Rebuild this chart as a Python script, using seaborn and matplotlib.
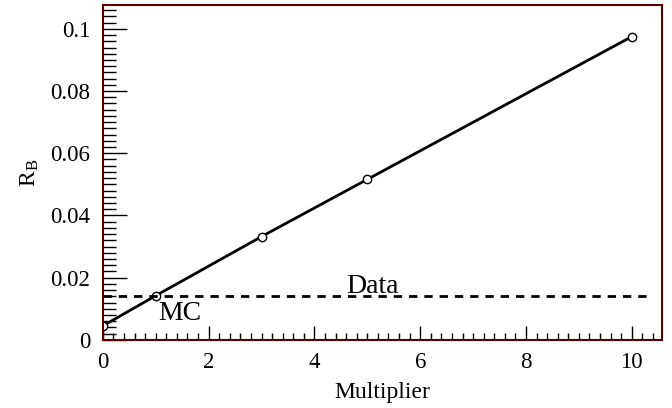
import numpy as np
import pandas as pd
import matplotlib
matplotlib.use('Agg')
import matplotlib.pyplot as plt
import seaborn as sns
from matplotlib.ticker import MultipleLocator, FuncFormatter

# values
multiplier = [0, 1, 3, 5, 10]
r_b = [0.0045, 0.0142, 0.0332, 0.0516, 0.0975]
data_level = 0.0142
data_x = [0, 10.4]

df = pd.DataFrame({'Multiplier': multiplier, 'R_B': r_b})

sns.set_theme(style='ticks')
plt.rcParams['font.family'] = ['Liberation Serif', 'DejaVu Serif']
plt.rcParams['mathtext.fontset'] = 'stix'

fig, ax = plt.subplots(figsize=(6.72, 4.08), dpi=100)
fig.subplots_adjust(left=0.153, right=0.985, top=0.988, bottom=0.167)

# MC points with a straight line through them
sns.lineplot(data=df, x='Multiplier', y='R_B', ax=ax, color='black', linewidth=2,
             marker='o', markersize=6, markerfacecolor='white',
             markeredgecolor='black', markeredgewidth=1)

# measured value in data
ax.plot(data_x, [data_level, data_level], color='black', linestyle=(0, (3, 2.5)), linewidth=2)

ax.text(4.6, 0.0152, 'Data', fontsize=20, color='black')
ax.text(1.04, 0.0064, 'MC', fontsize=20, color='black')

ax.set_xlim(0, 10.57)
ax.set_ylim(0, 0.1077)
ax.xaxis.set_major_locator(MultipleLocator(2))
ax.xaxis.set_minor_locator(MultipleLocator(0.2))
ax.yaxis.set_major_locator(MultipleLocator(0.02))
ax.yaxis.set_minor_locator(MultipleLocator(0.002))
ax.yaxis.set_major_formatter(FuncFormatter(lambda v, p: '%g' % round(v, 4)))
ax.tick_params(which='both', direction='in', top=False, right=False, labelsize=16.5, colors='black')
ax.tick_params(axis='y', which='major', length=17, width=1, pad=9)
ax.tick_params(axis='y', which='minor', length=9, width=1)
ax.tick_params(axis='x', which='major', length=10, width=1, pad=9)
ax.tick_params(axis='x', which='minor', length=5, width=1)

for sp in ax.spines.values():
    sp.set_visible(True)
    sp.set_color('#5a0000')
    sp.set_linewidth(1.5)

ax.set_xlabel('Multiplier', fontsize=17, labelpad=6, color='black')
ax.set_ylabel(r'R$_\mathregular{B}$', fontsize=17, labelpad=7, color='black')

fig.savefig('out.png', dpi=100)
